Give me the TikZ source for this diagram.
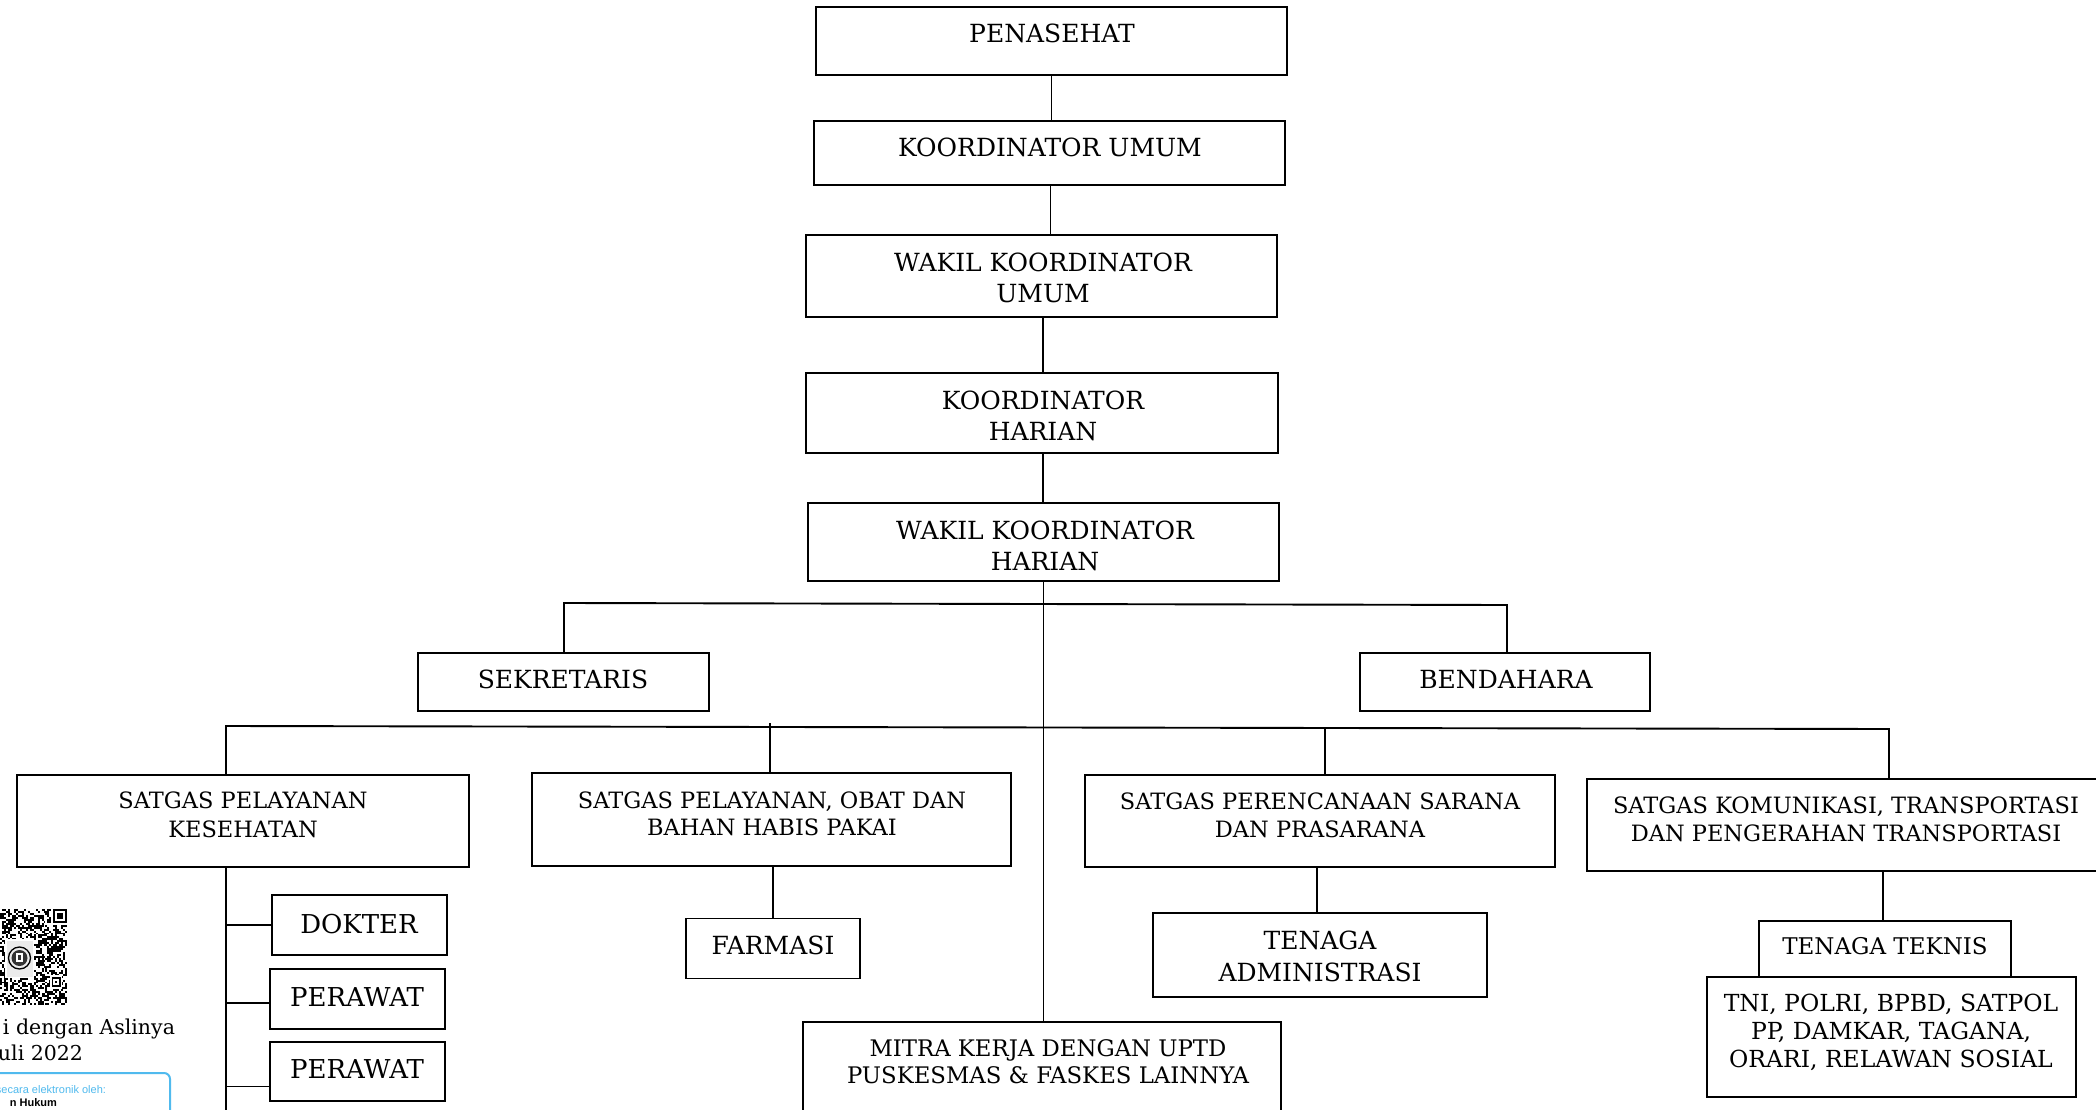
\documentclass[tikz,border=0pt]{standalone}
\usepackage{fontspec}
\setmainfont{DejaVu Serif}
\newfontfamily\stampsans{Liberation Sans}
\definecolor{stampblue}{RGB}{80,186,238}
\newcommand{\ml}[2]{\vtop{\baselineskip=#1\lineskiplimit=-100pt\lineskip=0pt\halign{\hfil##\hfil\cr#2\crcr}}}
\newcommand{\fs}[1]{\fontsize{#1}{#1}\selectfont}
\begin{document}
\begin{tikzpicture}[x=1pt,y=-1pt,
  box/.style={draw, line width=1.7pt, inner sep=0pt, outer sep=0pt},
  t/.style={inner sep=0pt, outer sep=0pt, anchor=base},
  con/.style={line width=1.9pt}]
\useasboundingbox (0,0) rectangle (2096,1110);
\clip (0,0) rectangle (2096,1110);
\fill[white] (0,0) rectangle (2096,1110);

% ---------- boxes ----------
\node[box, minimum width=471, minimum height=68] (pen) at (1051.5,41) {};
\node[box, minimum width=471, minimum height=64] (ku) at (1049.5,153) {};
\node[box, minimum width=471, minimum height=82] (wku) at (1041.5,276) {};
\node[box, minimum width=472, minimum height=80] (kh) at (1042,413) {};
\node[box, minimum width=471, minimum height=78] (wkh) at (1043.5,542) {};
\node[box, minimum width=291, minimum height=58] (sek) at (563.5,682) {};
\node[box, minimum width=290, minimum height=58] (ben) at (1505,682) {};
\node[box, minimum width=452, minimum height=92] (spk) at (243,821) {};
\node[box, minimum width=479, minimum height=93] (spo) at (771.5,819.5) {};
\node[box, minimum width=470, minimum height=92] (spr) at (1320,821) {};
\node[box, minimum width=518, minimum height=92] (skt) at (1846,825) {};
\node[box, minimum width=175, minimum height=60] (dok) at (359.5,925) {};
\node[box, minimum width=175, minimum height=60] (per1) at (357.5,999) {};
\node[box, minimum width=175, minimum height=59] (per2) at (357.5,1071.5) {};
\node[box, minimum width=174, minimum height=60] (far) at (773,948.5) {};
\node[box, minimum width=334, minimum height=84] (ta) at (1320,955) {};
\node[box, minimum width=252, minimum height=56] (tt) at (1885,949) {};
\node[box, minimum width=369, minimum height=120] (tni) at (1891.5,1037) {};
\node[box, minimum width=478, minimum height=118] (mitra) at (1042,1081) {};

% ---------- texts ----------
\node[t] (tpen) at (1052,43) {\fs{25pt}PENASEHAT};
\node[t] (tku) at (1050,157) {\fs{25pt}KOORDINATOR UMUM};
\node[t] (twku) at (1043,271) {\fs{25pt}\ml{31pt}{WAKIL KOORDINATOR\cr UMUM}};
\node[t] (tkh) at (1043,409) {\fs{25pt}\ml{31pt}{KOORDINATOR\cr HARIAN}};
\node[t] (twkh) at (1045,539) {\fs{25pt}\ml{31pt}{WAKIL KOORDINATOR\cr HARIAN}};
\node[t] (tsek) at (563,688) {\fs{25pt}SEKRETARIS};
\node[t] (tben) at (1506,688) {\fs{25pt}BENDAHARA};
\node[t] (tspk) at (243,808) {\fs{22.5pt}\ml{29pt}{SATGAS PELAYANAN\cr KESEHATAN}};
\node[t] (tspo) at (772,808) {\fs{22.5pt}\ml{27pt}{SATGAS PELAYANAN, OBAT DAN\cr BAHAN HABIS PAKAI}};
\node[t] (tspr) at (1320,809) {\fs{22.5pt}\ml{28pt}{SATGAS PERENCANAAN SARANA\cr DAN PRASARANA}};
\node[t] (tskt) at (1846,813) {\fs{22.5pt}\ml{28pt}{SATGAS KOMUNIKASI, TRANSPORTASI\cr DAN PENGERAHAN TRANSPORTASI}};
\node[t] (tdok) at (359,933) {\fs{26pt}DOKTER};
\node[t] (tper1) at (357,1006) {\fs{26pt}PERAWAT};
\node[t] (tper2) at (357,1078) {\fs{26pt}PERAWAT};
\node[t] (tfar) at (773,954) {\fs{25pt}FARMASI};
\node[t] (tta) at (1320,949) {\fs{25pt}\ml{32pt}{TENAGA\cr ADMINISTRASI}};
\node[t] (ttt) at (1885,954) {\fs{23pt}TENAGA TEKNIS};
\node[t] (ttni) at (1891,1011) {\fs{23.5pt}\ml{28pt}{TNI, POLRI, BPBD, SATPOL\cr PP, DAMKAR, TAGANA,\cr ORARI, RELAWAN SOSIAL}};
\node[t] (tmitra) at (1048,1056) {\fs{22.8pt}\ml{27pt}{MITRA KERJA DENGAN UPTD\cr PUSKESMAS \& FASKES LAINNYA}};

% ---------- connectors ----------
\draw[con] (pen.south) -- (pen.south |- ku.north);
\draw[con] ([xshift=1pt]ku.south) -- ([xshift=1pt]ku.south |- wku.north);
\draw[con] ([xshift=1.5pt]wku.south) -- ([xshift=1.5pt]wku.south |- kh.north);
\draw[con] ([xshift=1pt]kh.south) -- ([xshift=1pt]kh.south |- wkh.north);
\draw[con] (wkh.south) -- (wkh.south |- mitra.north);
\coordinate (b1l) at (564,603);
\coordinate (b1r) at (1507,605);
\draw[con] (sek.north -| b1l) -- (b1l) -- (b1r) -- (b1r |- ben.north);
\coordinate (b2l) at (226,726);
\coordinate (b2r) at (1889,729);
\draw[con] (b2l |- spk.north) -- (b2l) -- (b2r) -- (b2r |- skt.north);
\draw[con] ([xshift=-1.5pt]spo.north) -- ([xshift=-1.5pt,yshift=3pt]spo.north |- b2l);
\draw[con] ([xshift=5pt]spr.north) -- ([xshift=5pt]spr.north |- b2r);
\coordinate (kv) at (226,1115);
\draw[con] (kv |- spk.south) -- (kv);
\draw[con] (dok.west) -- (dok.west -| kv);
\draw[con] ([yshift=-4pt]per1.west) -- ([yshift=-4pt]per1.west -| kv);
\draw[con] ([yshift=-15pt]per2.west) -- ([yshift=-15pt]per2.west -| kv);
\draw[con] ([xshift=1.5pt]spo.south) -- (far.north);
\draw[con] ([xshift=-3pt]spr.south) -- ([xshift=-3pt]spr.south |- ta.north);
\draw[con] ([xshift=-2pt]tt.north) -- ([xshift=-2pt]tt.north |- skt.south);

% ---------- stamp (partly cut off) ----------
\begin{scope}
\pgfmathsetseed{20220}
\foreach \c in {15,...,48}{
  \foreach \r in {0,...,48}{
    \pgfmathrandominteger{\rnd}{0}{1}
    \ifnum\rnd=1 \fill (-29+\c*1.96, 909+\r*1.96) rectangle ++(1.96,1.96); \fi
  }}
\fill[white] (51.4,909) rectangle (67,924.7);
\fill[black] (53.3,909) rectangle ++(13.72,13.72);
\fill[white] (55.26,910.96) rectangle ++(9.8,9.8);
\fill[black] (57.22,912.92) rectangle ++(5.88,5.88);
\fill[white] (50,975) rectangle (62,989);
\fill[black] (51.5,977) rectangle ++(9.8,9.8);
\fill[white] (53.46,978.96) rectangle ++(5.88,5.88);
\fill[black] (55.42,980.92) rectangle ++(1.96,1.96);
\fill[white] (5,939) rectangle (34,978);
\fill[black!8] (6.5,940.5) rectangle (32.5,976.5);
\draw[black, line width=1.3pt] (19.5,958) circle (11);
\fill[black!80] (19.5,958) circle (8);
\fill[white] (16,953) rectangle (23,962);
\fill[black!80] (17.8,955) rectangle (21.2,960);
\end{scope}
\node[t, anchor=base east] (asli) at (175,1034) {\fs{20.5pt}i dengan Aslinya};
\node[t, anchor=base east] (tgl) at (83,1060) {\fs{20.5pt}uli 2022};
\draw[stampblue, line width=2pt, rounded corners=6pt] (-20,1073) rectangle (170,1140);
\node[t, anchor=base east, text=stampblue] (ttd) at (106,1093) {\stampsans\fs{11pt}secara elektronik oleh:};
\node[t, anchor=base east] (huk) at (57,1106) {\stampsans\bfseries\fs{11pt}n Hukum};
\end{tikzpicture}
\end{document}
